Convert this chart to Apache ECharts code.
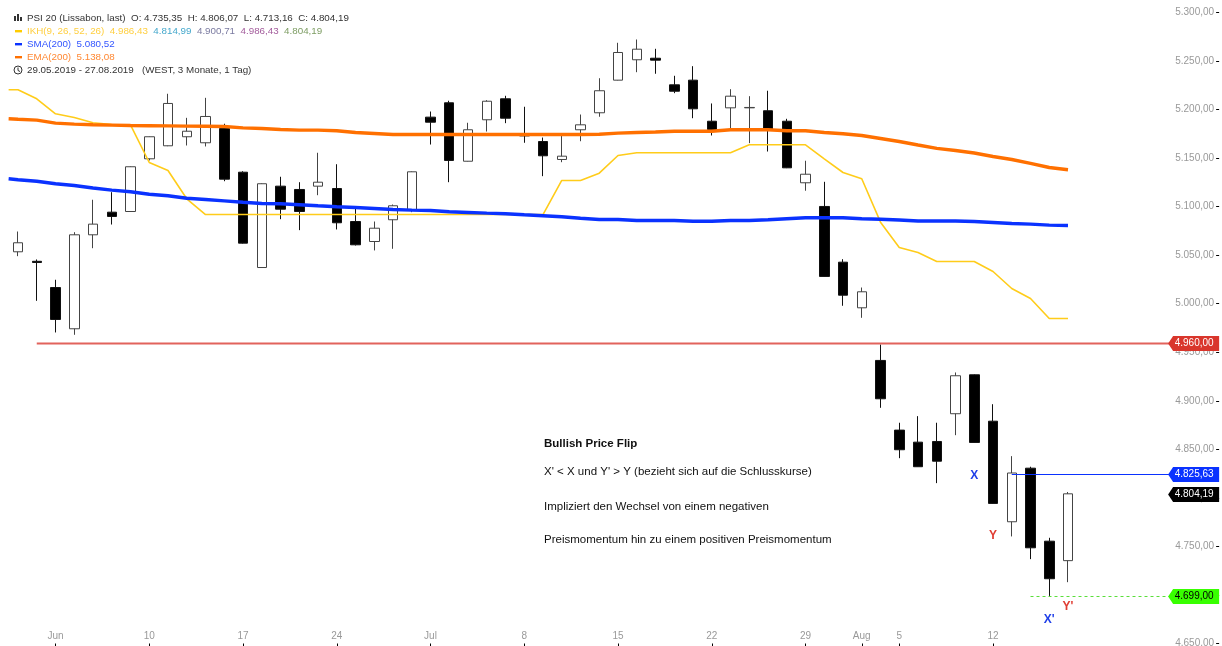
<!DOCTYPE html>
<html>
<head>
<meta charset="utf-8">
<title>PSI 20</title>
<style>
  html, body { margin: 0; padding: 0; background: #fff; }
  #main { width: 1222px; height: 646px; }
</style>
<script src="https://cdn.jsdelivr.net/npm/echarts@6/dist/echarts.min.js"></script>
</head>
<body>
<div id="main"></div>
<script>
const categories = [
  '30.05','31.05',
  '03.06','04.06','05.06','06.06','07.06','10.06','11.06','12.06','13.06','14.06',
  '17.06','18.06','19.06','20.06','21.06','24.06','25.06','26.06','27.06','28.06',
  '01.07','02.07','03.07','04.07','05.07','08.07','09.07','10.07','11.07','12.07',
  '15.07','16.07','17.07','18.07','19.07','22.07','23.07','24.07','25.07','26.07',
  '29.07','30.07','31.07','01.08','02.08','05.08','06.08','07.08','08.08','09.08',
  '12.08','13.08','14.08','15.08','16.08','19.08','20.08','21.08','22.08','23.08'
];
const tickLabels = {
  '03.06':'Jun','10.06':'10','17.06':'17','24.06':'24','01.07':'Jul','08.07':'8',
  '15.07':'15','22.07':'22','29.07':'29','01.08':'Aug','05.08':'5','12.08':'12'
};

const opens = [5053.5,5043.7,5016.7,4974.2,5071,5094.3,5095,5149.3,5162.7,5172,5165.8,5180.5,5135.5,5037.3,5121.1,5117.7,5121.1,5118.7,5084.7,5064.1,5086.5,5097.1,5192.2,5207,5146.8,5189.5,5211.1,5173.7,5167.1,5148.6,5179.2,5196.7,5230.3,5251.3,5252.9,5225.5,5230.3,5188,5201.8,5201.8,5198.8,5188,5124.6,5100.2,5042.8,4995.8,4941.6,4869.8,4857.4,4858.1,4886.7,4926.8,4879,4775.4,4830.6,4755.4,4735.35];
const closes = [5062.8,5042.5,4983.8,5071,5082,5089.9,5141.1,5172,5206.3,5177.7,5192.9,5128.3,5062.4,5123.6,5097.4,5095,5125.2,5083.4,5060.7,5077.8,5100.9,5135.9,5187,5147.6,5179.2,5208.6,5191.1,5172.9,5152.4,5152,5184.3,5219.4,5258.8,5262.2,5250.9,5218.9,5200.8,5179.5,5213.8,5202.2,5179.5,5140,5133.4,5028.1,5008.8,5012.3,4902.1,4849.6,4832.1,4837.8,4925.8,4857.1,4794.3,4825.63,4748.6,4716.7,4804.19];
const lows = [5049,5003,4970.4,4968,5057.2,5081.6,5095,5147.6,5162.3,5163,5162,5126.2,5062,5037,5087.1,5075.8,5111.8,5076.5,5060,5054.9,5056.6,5094.3,5164,5125.2,5146.5,5177.4,5186,5165.8,5131.4,5145.8,5167.4,5192.6,5230,5238.5,5236.9,5216.9,5191.1,5173.3,5179.5,5165.4,5156.8,5139.7,5116.4,5028,4997.9,4985.5,4892.8,4840.9,4832,4815.2,4864.6,4857,4794,4760.3,4736.9,4699,4713.16];
const highs = [5074.4,5045.6,5024.7,5073.7,5107.1,5114.9,5141.5,5172.3,5216.3,5191.5,5212.1,5185.4,5136.5,5124,5130.8,5125.2,5155.5,5143.7,5097.8,5084.7,5102.2,5136.3,5198,5209.1,5186.4,5209.7,5214.2,5202.9,5171.2,5173.3,5194.9,5232.3,5268.8,5272.2,5262.6,5234.8,5244.7,5206.3,5221,5213.8,5219.4,5190.5,5147.3,5125.6,5045.9,5016.7,4958,4877.4,4884.2,4877.4,4929.2,4927.2,4896.5,4843,4832.1,4758.9,4806.07];

// indicator lines start half a bar left of the first candle
const ikhFirst = 5220.4, smaFirst = 5128.7, emaFirst = 5190.5;
const ikh = [5220.4,5211.1,5195.7,5191.8,5186.4,5184.6,5184.3,5145.5,5137.3,5108.1,5091.9,5091.9,5091.9,5091.9,5091.9,5091.9,5091.9,5091.9,5091.9,5091.9,5091.9,5091.9,5091.9,5091.9,5091.9,5091.9,5091.9,5091.9,5091.9,5127,5127,5134.5,5152.7,5155.5,5155.5,5155.5,5155.5,5155.5,5155.5,5163.7,5163.7,5163.7,5163.7,5149.3,5135.2,5128.7,5084,5058,5052.8,5043.5,5043.5,5043.5,5033.2,5015.7,5005.4,4984.8,4984.8];
const sma = [5127.7,5126.2,5123.6,5121.8,5119.2,5117,5115.3,5112.8,5111.2,5108.7,5107.4,5106,5104.6,5103.3,5103,5102,5100.9,5099.9,5099.1,5098.1,5097.1,5096.4,5096,5094.7,5094,5093.3,5092.7,5091.6,5090.6,5089.6,5088.1,5086.8,5086.8,5085.8,5085.8,5085.8,5085,5085,5085.8,5085.8,5086.5,5087.5,5088.5,5088.5,5088.5,5087.5,5087.1,5086.3,5085.2,5085.2,5085.2,5084.7,5083.7,5082.7,5082,5081,5080.52];
const ema = [5190,5189.1,5186,5185,5184.3,5184,5183.6,5183.4,5183.2,5183,5182.9,5182.6,5181.2,5180.5,5179.5,5178.8,5178.8,5178.2,5176.4,5175.4,5174.3,5174.3,5174.3,5174.3,5174.3,5174.3,5174.3,5174.3,5174.3,5174.3,5174.3,5174.6,5175.7,5176.4,5176.9,5177.7,5177.7,5177.7,5179.2,5179.2,5179.2,5178.2,5178.2,5176.4,5175.1,5173.3,5170.2,5167.1,5163.5,5160,5157.9,5155.3,5151.7,5148.6,5144.5,5140.3,5138.08];

// price levels: first bar index, value
const levelStart = [1, 53, 54, 56];
const levelValues = [4960, 4825.63, 4699, 4804.19];
const levelColors = ['#d9362c', '#0a32ff', '#38ff00', '#000000'];
const levelText = ['#ffffff', '#ffffff', '#000000', '#ffffff'];
const levelLine = [
  {color: '#e2635c', width: 2},
  {color: '#0a32ff', width: 1},
  {color: '#5ade3a', width: 1, dash: [3, 3]},
  null
];

// labels on the chart: bar index, price, text
const noteBars = [51, 52, 55, 56];
const notePrices = [4823, 4760.6, 4674.8, 4688.2];
const noteTexts = ['X', 'Y', "X'", "Y'"];
const noteColors = ['#1f3fe8', '#e03c32', '#1f3fe8', '#e03c32'];

const textBar = 28;
const textPrices = [4856, 4827.2, 4791.2, 4757.2];
const textLines = [
  'Bullish Price Flip',
  "X' < X und Y' > Y (bezieht sich auf die Schlusskurse)",
  'Impliziert den Wechsel von einem negativen',
  'Preismomentum hin zu einem positiven Preismomentum'
];

const FONT = '"Liberation Sans", Arial, sans-serif';

function fmt(v) {
  return v.toLocaleString('de-DE', {minimumFractionDigits: 2, maximumFractionDigits: 2});
}

function withFirst(first, arr) {
  return [[-0.5, first]].concat(arr.map((v, i) => [i, v]));
}

function legendLine(y, parts) {
  var rich = {}, text = '';
  parts.forEach(function (p, i) {
    rich['p' + i] = {fill: p[1], font: '9.8px ' + FONT};
    text += '{p' + i + '|' + p[0] + '}' + (i < parts.length - 1 ? '  ' : '');
  });
  return {type: 'text', x: 27, y: y, z: 20, style: {text: text, rich: rich, verticalAlign: 'middle', font: '9.8px ' + FONT}};
}

function dash(y, color) {
  return {type: 'rect', z: 20, shape: {x: 15, y: y - 1, width: 7, height: 2.4}, style: {fill: color}};
}

var chart = echarts.init(document.getElementById('main'));

var option = {
  animation: false,
  backgroundColor: '#fff',
  textStyle: {fontFamily: FONT},
  grid: {left: 8.625, top: 12.5, width: 1162.5, bottom: 2.5, outerBoundsMode: 'none'},
  xAxis: [
    {
      type: 'category',
      data: categories,
      boundaryGap: true,
      axisLine: {show: false, onZero: false},
      splitLine: {show: false},
      axisTick: {
        show: true,
        alignWithLabel: true,
        length: 3,
        lineStyle: {color: '#000'},
        interval: function (i, v) { return v in tickLabels; }
      },
      axisLabel: {
        inside: true,
        margin: 2,
        color: '#999',
        fontSize: 10,
        interval: function (i, v) { return v in tickLabels; },
        formatter: function (v) { return tickLabels[v]; }
      }
    },
    {type: 'value', show: false, min: -0.5, max: 61.5}
  ],
  yAxis: {
    type: 'value',
    position: 'right',
    offset: 45,
    min: 4650,
    max: 5300,
    interval: 50,
    scale: true,
    axisLine: {show: false, onZero: false},
    splitLine: {show: false},
    axisTick: {show: true, length: 3, lineStyle: {color: '#000'}},
    axisLabel: {inside: true, margin: 2, color: '#999', fontSize: 10, formatter: fmt, hideOverlap: false}
  },
  graphic: [
    // candle icon
    {type: 'rect', z: 20, shape: {x: 14, y: 16, width: 2, height: 5}, style: {fill: '#333'}},
    {type: 'rect', z: 20, shape: {x: 17, y: 14, width: 2, height: 7}, style: {fill: '#333'}},
    {type: 'rect', z: 20, shape: {x: 20, y: 17, width: 2, height: 4}, style: {fill: '#333'}},
    dash(31, '#ffcc00'), dash(44, '#0a32ff'), dash(57, '#ff7000'),
    // clock icon
    {type: 'circle', z: 20, shape: {cx: 18, cy: 70, r: 4}, style: {fill: 'none', stroke: '#333', lineWidth: 1}},
    {type: 'polyline', z: 20, shape: {points: [[18, 67.5], [18, 70.5], [20, 71.5]]}, style: {fill: 'none', stroke: '#333', lineWidth: 1}},
    legendLine(18, [['PSI 20 (Lissabon, last)', '#333'], ['O: 4.735,35', '#333'], ['H: 4.806,07', '#333'], ['L: 4.713,16', '#333'], ['C: 4.804,19', '#333']]),
    legendLine(31, [['IKH(9, 26, 52, 26)', '#ffcf40'], ['4.986,43', '#ffcf40'], ['4.814,99', '#45a8cc'], ['4.900,71', '#7a7aa0'], ['4.986,43', '#a35c9c'], ['4.804,19', '#7c9c62']]),
    legendLine(44, [['SMA(200)', '#3355ff'], ['5.080,52', '#3355ff']]),
    legendLine(57, [['EMA(200)', '#ff8833'], ['5.138,08', '#ff8833']]),
    legendLine(70, [['29.05.2019 - 27.08.2019', '#333'], [' (WEST, 3 Monate, 1 Tag)', '#333']])
  ],
  series: [
    {
      name: 'IKH',
      type: 'line',
      xAxisIndex: 1,
      data: withFirst(ikhFirst, ikh),
      symbol: 'none',
      lineStyle: {color: '#ffcc1a', width: 1.6}
    },
    {
      name: 'PSI 20',
      type: 'candlestick',
      xAxisIndex: 0,
      barWidth: 10,
      data: opens.map((o, i) => [o, closes[i], lows[i], highs[i]]),
      itemStyle: {color: '#fff', color0: '#000', borderColor: '#444', borderColor0: '#111', borderWidth: 1}
    },
    {
      name: 'SMA',
      type: 'line',
      xAxisIndex: 1,
      data: withFirst(smaFirst, sma),
      symbol: 'none',
      lineStyle: {color: '#0a32ff', width: 3.4}
    },
    {
      name: 'EMA',
      type: 'line',
      xAxisIndex: 1,
      data: withFirst(emaFirst, ema),
      symbol: 'none',
      lineStyle: {color: '#ff7000', width: 3.4}
    },
    {
      name: 'levels',
      type: 'custom',
      xAxisIndex: 0,
      z: 5,
      data: levelValues.map((v, i) => [levelStart[i], v]),
      renderItem: function (params, api) {
        var i = params.dataIndex;
        var p = api.coord([api.value(0), api.value(1)]);
        var right = params.coordSys.x + params.coordSys.width;
        // snap to the pixel row so the thin lines stay crisp
        var y = Math.ceil(p[1]) + 0.5;
        var children = [];
        if (levelLine[i]) {
          children.push({
            type: 'line',
            shape: {x1: p[0], y1: y, x2: right, y2: y},
            style: {stroke: levelLine[i].color, lineWidth: levelLine[i].width, lineDash: levelLine[i].dash || null}
          });
        }
        children.push({
          type: 'polygon',
          shape: {points: [[right - 3, y], [right + 2, y - 7.5], [right + 48, y - 7.5], [right + 48, y + 7.5], [right + 2, y + 7.5]]},
          style: {fill: levelColors[i]}
        });
        children.push({
          type: 'text',
          x: right + 42.5,
          y: y,
          style: {text: fmt(levelValues[i]), fill: levelText[i], font: '10px ' + FONT, align: 'right', verticalAlign: 'middle'}
        });
        return {type: 'group', children: children};
      }
    },
    {
      name: 'notes',
      type: 'custom',
      xAxisIndex: 0,
      z: 6,
      data: noteBars.map((b, i) => [b, notePrices[i]]),
      renderItem: function (params, api) {
        var i = params.dataIndex;
        var p = api.coord([api.value(0), api.value(1)]);
        return {
          type: 'text', x: p[0], y: p[1],
          style: {text: noteTexts[i], fill: noteColors[i], font: 'bold 12px ' + FONT, align: 'center', verticalAlign: 'middle'}
        };
      }
    },
    {
      name: 'text',
      type: 'custom',
      xAxisIndex: 0,
      z: 6,
      data: textPrices.map((v) => [textBar, v]),
      renderItem: function (params, api) {
        var i = params.dataIndex;
        var p = api.coord([api.value(0), api.value(1)]);
        return {
          type: 'text', x: p[0] + 1, y: p[1],
          style: {text: textLines[i], fill: '#111', font: (i === 0 ? 'bold ' : '') + '11.5px ' + FONT, align: 'left', verticalAlign: 'middle'}
        };
      }
    }
  ]
};

chart.setOption(option);
</script>
</body>
</html>
